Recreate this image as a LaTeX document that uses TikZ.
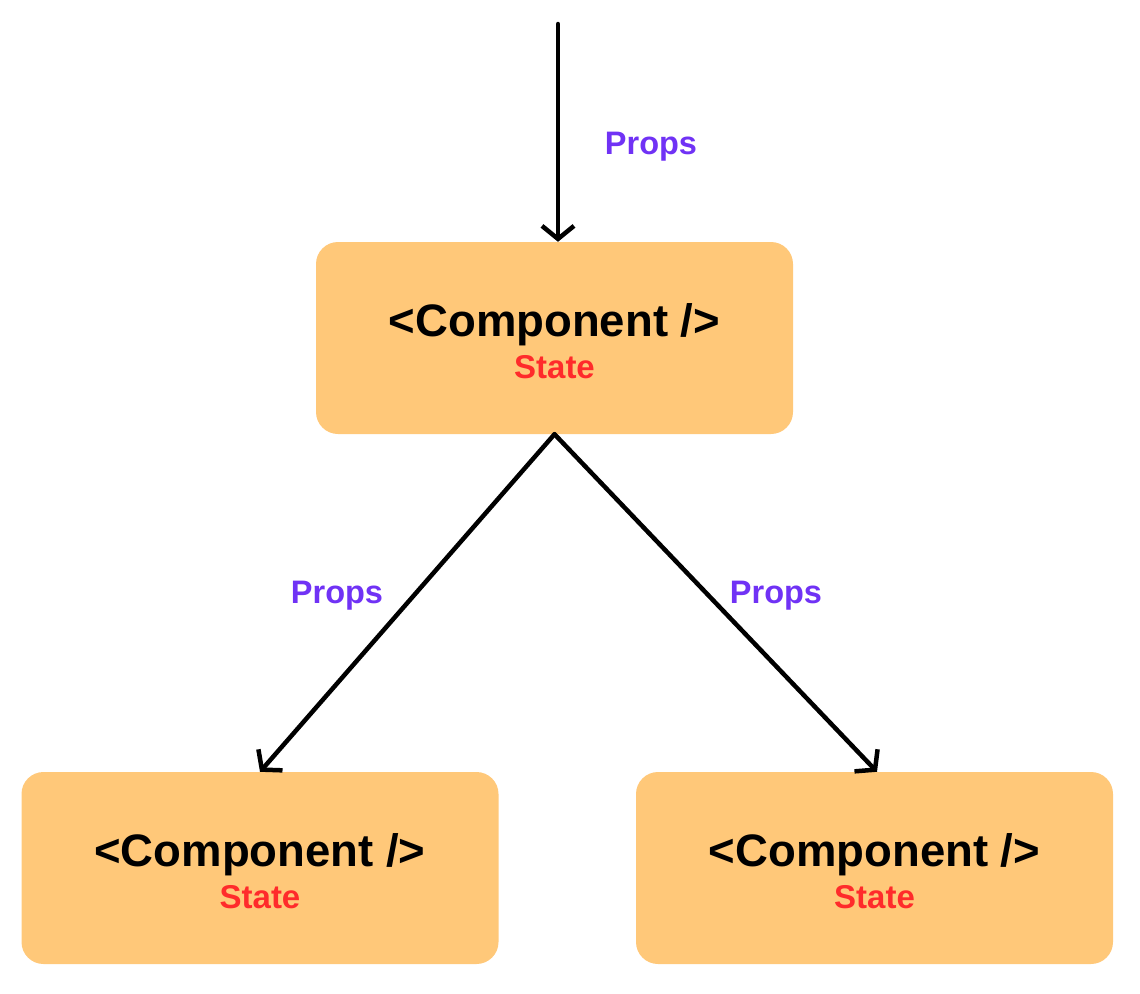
\documentclass[tikz,border=0pt]{standalone}
\usepackage{fontspec}
\setmainfont{Liberation Sans}
\usetikzlibrary{arrows.meta}
\definecolor{boxfill}{HTML}{FFC879}
\definecolor{statered}{HTML}{FF2B2B}
\definecolor{propspurple}{HTML}{7032F5}
\begin{document}
\begin{tikzpicture}[x=1pt,y=-1pt,
  compbox/.style={fill=boxfill, rounded corners=22pt, minimum width=477pt, minimum height=192pt, inner sep=0pt},
  comptext/.style={font=\bfseries\fontsize{45.5}{50}\selectfont, text=black, inner sep=0pt},
  statetext/.style={font=\bfseries\fontsize{33}{36}\selectfont, text=statered, inner sep=0pt},
  propslabel/.style={font=\bfseries\fontsize{32.5}{36}\selectfont, text=propspurple, inner sep=0pt},
  flow/.style={line width=4.5pt, line cap=round, -{Straight Barb[length=13pt,width=32pt,line width=4.5pt]}}]
\useasboundingbox (0,0) rectangle (1140,993);
\node[compbox] (top) at (554.5,338) {};
\node[comptext] (topc) at (554.5,325) {<Component />};
\node[statetext] (tops) at (554.5,367.5) {State};
\node[compbox] (left) at (260,868) {};
\node[comptext] (leftc) at (260,855) {<Component />};
\node[statetext] (lefts) at (260,897.5) {State};
\node[compbox] (right) at (874.5,868) {};
\node[comptext] (rightc) at (874.5,855) {<Component />};
\node[statetext] (rights) at (874.5,897.5) {State};
\coordinate (src) at (558,24);
\draw[flow] (src) -- (top.north -| src);
\draw[flow] (top.south) -- ([xshift=0pt]left.north);
\draw[flow] (top.south) -- ([xshift=2.5pt]right.north);
\node[propslabel] (p1) at (651,147) {Props};
\node[propslabel] (p2) at (337,596) {Props};
\node[propslabel] (p3) at (776,596) {Props};
\end{tikzpicture}
\end{document}
